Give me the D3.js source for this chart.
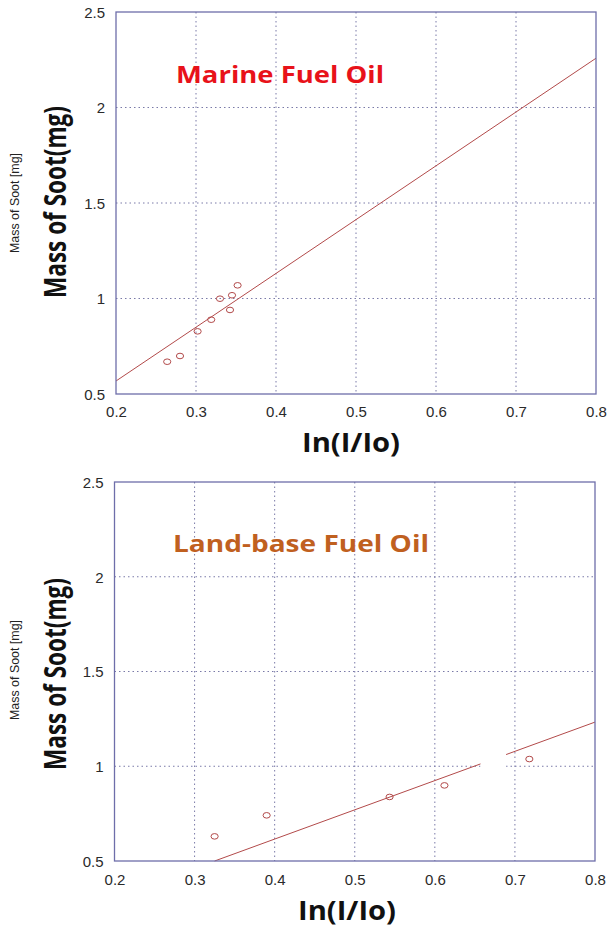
<!DOCTYPE html>
<html><head><meta charset="utf-8">
<script src="https://cdn.jsdelivr.net/npm/d3@7"></script>
<style>body{margin:0;background:#fff}svg{display:block}</style>
</head><body>
<svg id="c" width="607" height="928"></svg>
<script>
// ---- data ----
const xTicks = [0.2, 0.3, 0.4, 0.5, 0.6, 0.7, 0.8];
const yTicks = [0.5, 1, 1.5, 2, 2.5];
const xTickLabels = ["0.2","0.3","0.4","0.5","0.6","0.7","0.8"];
const yTickLabels = ["0.5","1","1.5","2","2.5"];

const marineX = [0.264, 0.280, 0.302, 0.319, 0.330, 0.3425, 0.345, 0.352];
const marineY = [0.669, 0.699, 0.828, 0.889, 0.999, 0.940, 1.017, 1.069];
const marineFitX = [0.2, 0.8];
const marineFitY = [0.568, 2.258];

const landX = [0.325, 0.390, 0.5435, 0.612, 0.718];
const landY = [0.630, 0.741, 0.838, 0.899, 1.038];
const landFitX = [0.325, 0.8];
const landFitY = [0.5, 1.233];
const landGapX = [0.657, 0.689];
const landGapY = [0.97, 1.1];

const titles = ["Marine Fuel Oil", "Land-base Fuel Oil"];
const xLabel = "In(I/Io)";
const yLabelBig = "Mass of Soot(mg)";
const yLabelSmall = "Mass of Soot [mg]";

// ---- layout ----
const svg = d3.select("#c");
const axisCol = "#6e6eaa", gridCol = "#7a7aa8", markCol = "#b24a4a";

const panels = [
  {x: marineX, y: marineY, fx: marineFitX, fy: marineFitY, title: titles[0], tcol: "#e8121a",
   L:116, R:596, T:12, B:394, titleX:176, titleBase:83, titleW:208, xlab:{cx:351, base:452}, xtickBase:417, ycenter:202, ysmallCenter:203},
  {x: landX, y: landY, fx: landFitX, fy: landFitY, gapX: landGapX, gapY: landGapY, title: titles[1], tcol: "#c0601f",
   L:114.5, R:595, T:482, B:861, titleX:173, titleBase:552, titleW:256, xlab:{cx:347, base:920}, xtickBase:885, ycenter:674, ysmallCenter:670}
];

panels.forEach(p => {
  const x = d3.scaleLinear().domain([0.2, 0.8]).range([p.L, p.R]);
  const y = d3.scaleLinear().domain([0.5, 2.5]).range([p.B, p.T]);
  const g = svg.append("g");

  // grid
  g.selectAll(".vg").data(xTicks.slice(1, -1)).enter().append("line")
    .attr("x1", d => x(d)).attr("x2", d => x(d)).attr("y1", p.T).attr("y2", p.B)
    .attr("stroke", gridCol).attr("stroke-width", 1).attr("stroke-dasharray", "1.5,3");
  g.selectAll(".hg").data(yTicks.slice(1, -1)).enter().append("line")
    .attr("x1", p.L).attr("x2", p.R).attr("y1", d => y(d)).attr("y2", d => y(d))
    .attr("stroke", gridCol).attr("stroke-width", 1).attr("stroke-dasharray", "1.5,3");

  // fit line
  g.append("line")
    .attr("x1", x(p.fx[0])).attr("y1", y(p.fy[0]))
    .attr("x2", x(p.fx[1])).attr("y2", y(p.fy[1]))
    .attr("stroke", markCol).attr("stroke-width", 1);

  if (p.gapX) {
    g.append("rect").attr("x", x(p.gapX[0])).attr("width", x(p.gapX[1]) - x(p.gapX[0]))
      .attr("y", y(p.gapY[1])).attr("height", y(p.gapY[0]) - y(p.gapY[1])).attr("fill", "#fff");
  }

  // points
  g.selectAll(".pt").data(p.x.map((v, i) => [v, p.y[i]])).enter().append("ellipse")
    .attr("cx", d => x(d[0])).attr("cy", d => y(d[1])).attr("rx", 3.6).attr("ry", 2.8)
    .attr("fill", "none").attr("stroke", markCol).attr("stroke-width", 1);

  // frame
  g.append("rect").attr("x", p.L).attr("y", p.T).attr("width", p.R - p.L).attr("height", p.B - p.T)
    .attr("fill", "none").attr("stroke", axisCol).attr("stroke-width", 1.3);

  // ticks
  const xa = d3.axisBottom(x).tickValues(xTicks).tickFormat((d, i) => xTickLabels[i]).tickSize(0).tickPadding(0);
  const xg = g.append("g").attr("transform", `translate(0,${p.xtickBase})`).call(xa);
  xg.select(".domain").remove();
  xg.selectAll("text").attr("dy", 0).attr("y", 0)
    .attr("font-family", "Liberation Sans, Arial, sans-serif").attr("font-size", 15).attr("fill", "#2a2a2a");

  const ya = d3.axisLeft(y).tickValues(yTicks).tickFormat((d, i) => yTickLabels[i]).tickSize(0).tickPadding(0);
  const yg = g.append("g").attr("transform", `translate(${p.L - 11},0)`).call(ya);
  yg.select(".domain").remove();
  yg.selectAll("text").attr("dy", "0.35em").attr("x", 0)
    .attr("font-family", "Liberation Sans, Arial, sans-serif").attr("font-size", 15).attr("fill", "#2a2a2a");

  // title
  g.append("text").attr("x", p.titleX).attr("y", p.titleBase).text(p.title)
    .attr("font-family", "Open Sans, Noto Sans, sans-serif").attr("font-weight", "bold")
    .attr("font-size", 24).attr("fill", p.tcol)
    .attr("textLength", p.titleW).attr("lengthAdjust", "spacingAndGlyphs");

  // x label
  g.append("text").attr("x", p.xlab.cx).attr("y", p.xlab.base).attr("text-anchor", "middle").text(xLabel)
    .attr("font-family", "Open Sans, Noto Sans, sans-serif").attr("font-weight", "bold")
    .attr("font-size", 26).attr("fill", "#111")
    .attr("textLength", 98).attr("lengthAdjust", "spacingAndGlyphs");

  // y labels
  g.append("text").attr("transform", `translate(66,${p.ycenter}) rotate(-90)`).attr("text-anchor", "middle")
    .text(yLabelBig).attr("font-family", "Open Sans, Noto Sans, sans-serif").attr("font-weight", "bold")
    .attr("font-size", 30).attr("fill", "#111")
    .attr("textLength", 192).attr("lengthAdjust", "spacingAndGlyphs");
  g.append("text").attr("transform", `translate(19,${p.ysmallCenter}) rotate(-90)`).attr("text-anchor", "middle")
    .text(yLabelSmall).attr("font-family", "Liberation Sans, Arial, sans-serif")
    .attr("font-size", 12).attr("fill", "#222")
    .attr("textLength", 100).attr("lengthAdjust", "spacingAndGlyphs");
});
</script>
</body></html>
